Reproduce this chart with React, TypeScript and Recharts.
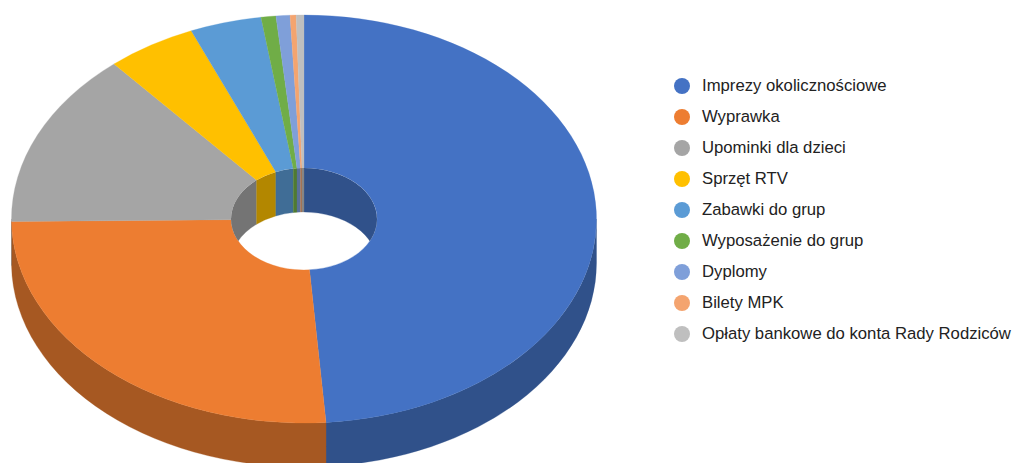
import React from "react";
import { PieChart, Pie, Legend } from "recharts";

const categories = [
  "Imprezy okolicznościowe",
  "Wyprawka",
  "Upominki dla dzieci",
  "Sprzęt RTV",
  "Zabawki do grup",
  "Wyposażenie do grup",
  "Dyplomy",
  "Bilety MPK",
  "Opłaty bankowe do konta Rady Rodziców",
];
const values = [48.8, 26.0, 13.95, 4.95, 3.95, 0.82, 0.77, 0.33, 0.43];
const topColors = ["#4472C4", "#ED7D31", "#A5A5A5", "#FFC000", "#5B9BD5", "#70AD47", "#7F9FD9", "#F4A46F", "#BFBFBF"];
const wallColors = ["#30518A", "#A65822", "#747474", "#B38700", "#406D96", "#4F7A32", "#59709A", "#AB734E", "#868686"];

const topData = categories.map((name, i) => ({ name, value: values[i], fill: topColors[i] }));
const wallData = categories.map((name, i) => ({ name, value: values[i], fill: wallColors[i] }));

const SQUASH = 204 / 292.5;
const DEPTH = 44;
const INNER_SQUASH = 51 / 73;

type P = { cx: number; cy: number; innerRadius: number; outerRadius: number; startAngle: number; endAngle: number; fill: string; index?: number };

const pt = (cx: number, cy: number, rx: number, ry: number, deg: number, dy = 0) => {
  const r = (deg * Math.PI) / 180;
  return `${(cx + rx * Math.cos(r)).toFixed(2)} ${(cy - ry * Math.sin(r) + dy).toFixed(2)}`;
};

const arc = (rx: number, ry: number, from: number, to: number, sweep: number, end: string) =>
  `A ${rx} ${ry} 0 ${Math.abs(from - to) > 180 ? 1 : 0} ${sweep} ${end}`;

const TopFace = (p: P) => {
  const { cx, cy, innerRadius: ir, outerRadius: or, startAngle: a, endAngle: b, fill } = p;
  const ry = or * SQUASH;
  const iry = ir * INNER_SQUASH;
  const d = [
    `M ${pt(cx, cy, or, ry, a)}`,
    arc(or, ry, a, b, 1, pt(cx, cy, or, ry, b)),
    `L ${pt(cx, cy, ir, iry, b)}`,
    arc(ir, iry, a, b, 0, pt(cx, cy, ir, iry, a)),
    "Z",
  ].join(" ");
  return <path d={d} fill={fill} stroke={fill} strokeWidth={0.3} />;
};

const OuterWall = (p: P) => {
  const { cx, cy, outerRadius: or, startAngle, endAngle, fill } = p;
  const ry = or * SQUASH;
  const s = Math.min(startAngle, 0);
  const e = Math.max(endAngle, -180);
  if (s <= e) return <g />;
  const d = [
    `M ${pt(cx, cy, or, ry, s)}`,
    arc(or, ry, s, e, 1, pt(cx, cy, or, ry, e)),
    `L ${pt(cx, cy, or, ry, e, DEPTH)}`,
    arc(or, ry, s, e, 0, pt(cx, cy, or, ry, s, DEPTH)),
    "Z",
  ].join(" ");
  return <path d={d} fill={fill} stroke={fill} strokeWidth={0.3} />;
};

const InnerWall = (p: P) => {
  const { cx, cy, innerRadius: ir, startAngle, endAngle, fill, index } = p;
  const iry = ir * INNER_SQUASH;
  const ranges: [number, number][] = [
    [90, 0],
    [-180, -270],
  ];
  const id = `hole-${index ?? 0}`;
  const paths: string[] = [];
  ranges.forEach(([hi, lo]) => {
    const s = Math.min(startAngle, hi);
    const e = Math.max(endAngle, lo);
    if (s <= e) return;
    paths.push(
      [
        `M ${pt(cx, cy, ir, iry, s)}`,
        arc(ir, iry, s, e, 1, pt(cx, cy, ir, iry, e)),
        `L ${pt(cx, cy, ir, iry, e, DEPTH)}`,
        arc(ir, iry, s, e, 0, pt(cx, cy, ir, iry, s, DEPTH)),
        "Z",
      ].join(" ")
    );
  });
  if (!paths.length) return <g />;
  return (
    <g>
      <clipPath id={id}>
        <ellipse cx={cx} cy={cy} rx={ir} ry={iry} />
      </clipPath>
      <g clipPath={`url(#${id})`}>
        {paths.map((d, i) => (
          <path key={i} d={d} fill={fill} stroke={fill} strokeWidth={0.3} />
        ))}
      </g>
    </g>
  );
};

const LegendList = (props: any) => {
  const items = (props.payload || []).filter((item: any) => topColors.includes(item.color));
  return (
    <div style={{ fontFamily: "'Liberation Sans', Arial, sans-serif", fontSize: 16.7, color: "#222" }}>
      {items.map((item: any) => (
        <div key={item.value} style={{ display: "flex", alignItems: "center", height: 30.9, whiteSpace: "nowrap" }}>
          <span style={{ width: 16, height: 16, borderRadius: 8, background: item.color, marginRight: 12, flex: "none" }} />
          <span>{item.value}</span>
        </div>
      ))}
    </div>
  );
};

const common = {
  dataKey: "value",
  nameKey: "name",
  cx: 304,
  cy: 219,
  innerRadius: 73,
  outerRadius: 292.5,
  startAngle: 90,
  endAngle: -270,
  isAnimationActive: false,
  stroke: "none",
  label: false,
  labelLine: false,
};

export default function App() {
  return (
    <div style={{ position: "absolute", left: 0, top: 0, width: 1014, height: 463, overflow: "hidden", background: "#fff" }}>
      <PieChart width={1014} height={463} margin={{ top: 0, right: 0, bottom: 0, left: 0 }}>
        <Pie {...common} data={wallData} legendType="none" shape={(p: any) => <OuterWall {...p} />} />
        <Pie {...common} data={topData} shape={(p: any) => <TopFace {...p} />} />
        <Pie {...common} data={wallData} legendType="none" shape={(p: any) => <InnerWall {...p} />} />
        <Legend
          content={<LegendList />}
          layout="vertical"
          itemSorter={null}
          wrapperStyle={{ position: "absolute", left: 674, top: 71, width: 340, height: 280 }}
        />
      </PieChart>
    </div>
  );
}
